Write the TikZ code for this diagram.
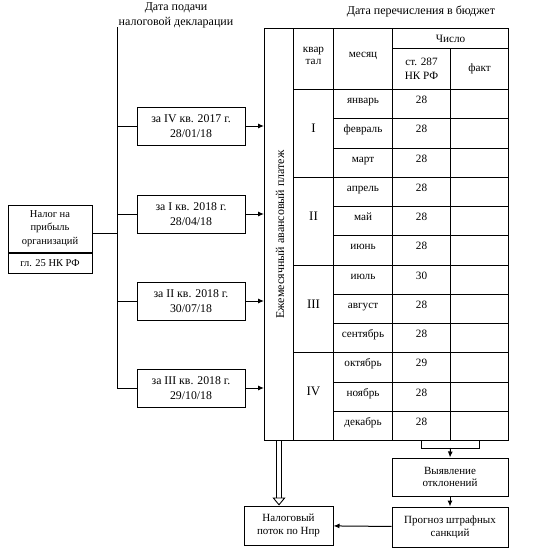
\documentclass[tikz,border=0pt]{standalone}
\usepackage{fontspec}
\setmainfont{Liberation Serif}
\usetikzlibrary{arrows.meta,positioning,calc}
\tikzset{
  >={Latex[length=6pt,width=5pt]},
  box/.style={draw,line width=1pt,minimum width=108pt,minimum height=38pt,
    align=center,inner sep=1pt,font=\fontsize{11.8}{15}\selectfont},
  small box/.style={box,font=\fontsize{11}{12.5}\selectfont},
  cell/.style={draw,line width=1pt,anchor=north west,minimum width=#1,
    inner sep=0pt,align=center,font=\fontsize{11.2}{13}\selectfont},
  cell/.default=59pt,
  lifted/.style={text height=7.5pt,text depth=8.5pt},
  link/.style={line width=1pt},
  flow/.style={->,line width=1pt},
  heavy/.style={double,double distance=4.5pt,line width=0.9pt,
    -{Triangle[open,length=8pt,width=13pt]}},
  title/.style={align=center,font=\fontsize{12}{15}\selectfont},
}
\begin{document}
\begin{tikzpicture}[x=1pt,y=-1pt]
  \useasboundingbox (0,0) rectangle (543,550);
  % titles
  \node[title] (t1) at (176,15) {Дата подачи\\налоговой декларации};
  \node[title] (t2) at (421,11) {Дата перечисления в бюджет};
  % source
  \node[box,minimum width=84pt,minimum height=47pt,font=\fontsize{10.5}{13.3}\selectfont] (tax) at (50,228.5) {Налог на\\прибыль\\организаций};
  \node[box,minimum width=84pt,minimum height=20pt,anchor=north,font=\fontsize{10.5}{13}\selectfont] (ref) at (tax.south) {гл. 25 НК РФ};
  % declarations
  \node[box] (b1) at (191,126) {за IV кв. 2017 г.\\28/01/18};
  \node[box] (b2) at (191,214) {за I кв. 2018 г.\\28/04/18};
  \node[box] (b3) at (191,301) {за II кв. 2018 г.\\30/07/18};
  \node[box] (b4) at (191,388) {за III кв. 2018 г.\\29/10/18};
  \coordinate (spine) at (117,27);
  \draw[link] (spine) |- (b4.west);
  \foreach \b in {b1,b2,b3} \draw[link] (\b.west -| spine) -- (\b.west);
  \draw[link] ([yshift=-5pt]tax.east) -- ([yshift=-5pt]tax.east -| spine);
  % table
  \node[draw,line width=1pt,anchor=north west,minimum width=29pt,minimum height=412pt] (pay) at (264,28) {};
  \node[rotate=90,font=\fontsize{12}{14}\selectfont] (payt) at ([xshift=1pt]pay.center) {Ежемесячный авансовый платеж};
  \foreach \b in {b1,b2,b3,b4} \draw[flow] (\b.east) -- (\b.east -| pay.west);
  \node[cell=40pt,minimum height=61pt,font=\fontsize{11.2}{12}\selectfont] (hq) at (293,28) {квар\\тал\\[-5pt]};
  \node[cell,minimum height=61pt] (hm) at (333,28) {месяц\\[-5pt]};
  \node[cell=116pt,minimum height=20pt] (hn) at (392,28) {Число};
  \node[cell=58pt,minimum height=41pt,font=\fontsize{11.2}{14}\selectfont] (hs) at (392,48) {ст. 287\\НК РФ};
  \node[cell=58pt,minimum height=41pt] (hf) at (450,48) {факт};
  \foreach \q [count=\i from 0] in {I,II,III,IV}
    \node[cell=40pt,minimum height=87.75pt,font=\fontsize{13}{14}\selectfont,text height=8.5pt,text depth=10pt] (q\i) at (293,{89+\i*87.75}) {\q};
  \foreach \m/\d [count=\i from 0] in {январь/28,февраль/28,март/28,апрель/28,май/28,июнь/28,июль/30,август/28,сентябрь/28,октябрь/29,ноябрь/28,декабрь/28} {
    \node[cell,lifted,minimum height=29.25pt] (m\i) at (333,{89+\i*29.25}) {\m};
    \node[cell=58pt,lifted,minimum height=29.25pt] (d\i) at (392,{89+\i*29.25}) {\d};
    \node[cell=58pt,minimum height=29.25pt] (f\i) at (450,{89+\i*29.25}) {};
  }
  % control
  \node[small box,minimum width=116pt] (dev) at (450,477) {Выявление\\отклонений};
  \node[small box,minimum width=116pt,minimum height=40pt] (fine) at (450,527) {Прогноз штрафных\\санкций};
  \node[small box,minimum width=89pt,minimum height=39pt] (flow) at (288.5,525.5) {Налоговый\\поток по Нпр};
  \draw[link] (d11.south) -- ++(0,7) coordinate (bl) -| (f11.south);
  \coordinate (brk) at ($(bl)!0.5!(bl -| f11.south)$);
  \draw[flow] (brk) -- (dev.north);
  \draw[flow] (dev) -- (fine);
  \draw[flow] (fine) -- (flow);
  \draw[heavy] (pay.south) -- (pay.south |- flow.north);
\end{tikzpicture}
\end{document}
